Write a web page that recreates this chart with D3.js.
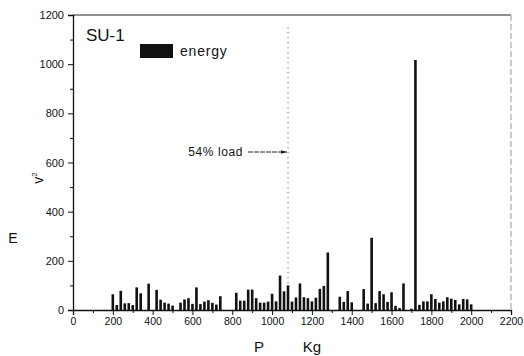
<!DOCTYPE html>
<html>
<head>
<meta charset="utf-8">
<script src="https://cdn.jsdelivr.net/npm/d3@7"></script>
<style>
  body { margin: 0; background: #fff; }
  svg text { font-family: "Liberation Sans", Arial, sans-serif; fill: #111; }
</style>
</head>
<body>
<div id="chart"></div>
<script>
// load (kg) at each bar and the energy value
const loadKg = [200, 220, 240, 260, 280, 300, 320, 340, 380, 420, 440, 460, 480, 500,
  540, 560, 580, 600, 620, 640, 660, 680, 700, 720, 740,
  820, 840, 860, 880, 900, 920, 940, 960, 980, 1000, 1020, 1040, 1060, 1080, 1100,
  1120, 1140, 1160, 1180, 1200, 1220, 1240, 1260, 1280,
  1340, 1360, 1380, 1400, 1460, 1480, 1500, 1520, 1540, 1560, 1580, 1600, 1620, 1640,
  1660, 1700, 1720, 1740, 1760, 1780, 1800, 1820, 1840, 1860, 1880, 1900,
  1920, 1940, 1960, 1980, 2000];
const energy = [64, 20, 78, 27, 28, 20, 92, 68, 107, 82, 42, 30, 26, 18,
  30, 43, 48, 25, 92, 24, 34, 40, 29, 22, 56,
  70, 38, 38, 83, 83, 48, 30, 30, 34, 66, 35, 140, 76, 100, 34,
  51, 108, 52, 48, 35, 50, 86, 98, 234,
  54, 33, 77, 31, 85, 26, 294, 28, 77, 64, 33, 72, 17, 8,
  108, 5, 1017, 21, 35, 35, 64, 45, 30, 35, 52, 46,
  41, 23, 45, 43, 23];

const xTicks = d3.range(0, 2201, 200);
const xMinor = d3.range(100, 2200, 200);
const yTicks = d3.range(0, 1201, 200);
const yMinor = d3.range(100, 1200, 200);
const loadMark = 1080;

const width = 524, height = 356;
const margin = { left: 73, right: 13, top: 15, bottom: 46 };

const svg = d3.select('#chart').append('svg')
  .attr('width', width)
  .attr('height', height);

const x = d3.scaleLinear().domain([0, 2200]).range([margin.left, width - margin.right]);
const y = d3.scaleLinear().domain([0, 1200]).range([height - margin.bottom, margin.top]);

// frame: top and right edges
svg.append('line')
  .attr('x1', x(0)).attr('x2', x(2200)).attr('y1', y(1200)).attr('y2', y(1200))
  .attr('stroke', '#222').attr('stroke-width', 1.2);
svg.append('line')
  .attr('x1', x(2200)).attr('x2', x(2200)).attr('y1', y(1200)).attr('y2', y(0))
  .attr('stroke', '#999').attr('stroke-width', 1).attr('stroke-dasharray', '6,3');

// axes
const fmt = d3.format('d');
const xAxis = svg.append('g')
  .attr('transform', `translate(0,${y(0)})`)
  .call(d3.axisBottom(x).tickValues(xTicks).tickFormat(fmt).tickSize(5).tickPadding(3));
svg.append('g')
  .attr('transform', `translate(0,${y(0)})`)
  .call(d3.axisBottom(x).tickValues(xMinor).tickSize(3).tickFormat(''))
  .call(g => g.select('.domain').remove());

const yAxis = svg.append('g')
  .attr('transform', `translate(${x(0)},0)`)
  .call(d3.axisLeft(y).tickValues(yTicks).tickFormat(fmt).tickSize(5).tickPadding(4));
svg.append('g')
  .attr('transform', `translate(${x(0)},0)`)
  .call(d3.axisLeft(y).tickValues(yMinor).tickSize(3).tickFormat(''))
  .call(g => g.select('.domain').remove());

svg.selectAll('.domain').attr('stroke', '#111').attr('stroke-width', 1.3);
svg.selectAll('.tick line').attr('stroke', '#111');
xAxis.selectAll('text').style('font-size', '10.5px').attr('fill', '#222');
yAxis.selectAll('text').style('font-size', '11px').attr('fill', '#222');

// dotted 54% load line
svg.append('line')
  .attr('x1', x(loadMark)).attr('x2', x(loadMark))
  .attr('y1', y(1150)).attr('y2', y(0))
  .attr('stroke', '#444').attr('stroke-width', 1).attr('stroke-dasharray', '1,4');

// bars
svg.append('g').selectAll('rect')
  .data(loadKg)
  .join('rect')
  .attr('x', d => x(d) - 1.3)
  .attr('width', 2.6)
  .attr('y', (d, i) => y(energy[i]))
  .attr('height', (d, i) => y(0) - y(energy[i]))
  .attr('fill', '#111');

// annotation
svg.append('defs').append('marker')
  .attr('id', 'arr')
  .attr('viewBox', '0 0 10 10')
  .attr('refX', 10).attr('refY', 5)
  .attr('markerWidth', 6).attr('markerHeight', 6)
  .attr('orient', 'auto')
  .append('path').attr('d', 'M0,2 L10,5 L0,8 Z').attr('fill', '#222');

svg.append('text')
  .attr('x', 243).attr('y', 156)
  .attr('text-anchor', 'end')
  .style('font-size', '12px')
  .style('letter-spacing', '0.6px')
  .text('54% load');
svg.append('line')
  .attr('x1', 248).attr('x2', x(loadMark) - 1)
  .attr('y1', 152).attr('y2', 152)
  .attr('stroke', '#222').attr('stroke-width', 1)
  .attr('stroke-dasharray', '5,1')
  .attr('marker-end', 'url(#arr)');

// title and legend
svg.append('text')
  .attr('x', 86).attr('y', 41)
  .style('font-size', '17px')
  .text('SU-1');
svg.append('rect')
  .attr('x', 140).attr('y', 44).attr('width', 33).attr('height', 14)
  .attr('fill', '#111');
svg.append('text')
  .attr('x', 180).attr('y', 56)
  .style('font-size', '14px')
  .style('letter-spacing', '0.8px')
  .text('energy');

// axis titles
svg.append('text')
  .attr('x', 259).attr('y', 352)
  .attr('text-anchor', 'middle')
  .style('font-size', '15px')
  .text('P');
svg.append('text')
  .attr('x', 312).attr('y', 352)
  .attr('text-anchor', 'middle')
  .style('font-size', '15px')
  .text('Kg');

svg.append('text')
  .attr('x', 13).attr('y', 243)
  .attr('text-anchor', 'middle')
  .style('font-size', '14px')
  .text('E');
const vLab = svg.append('text')
  .attr('transform', 'translate(43,178) rotate(-90)')
  .attr('text-anchor', 'middle')
  .style('font-size', '14px');
vLab.append('tspan').text('v');
vLab.append('tspan').attr('dy', -6).style('font-size', '8px').text('2');
</script>
</body>
</html>
